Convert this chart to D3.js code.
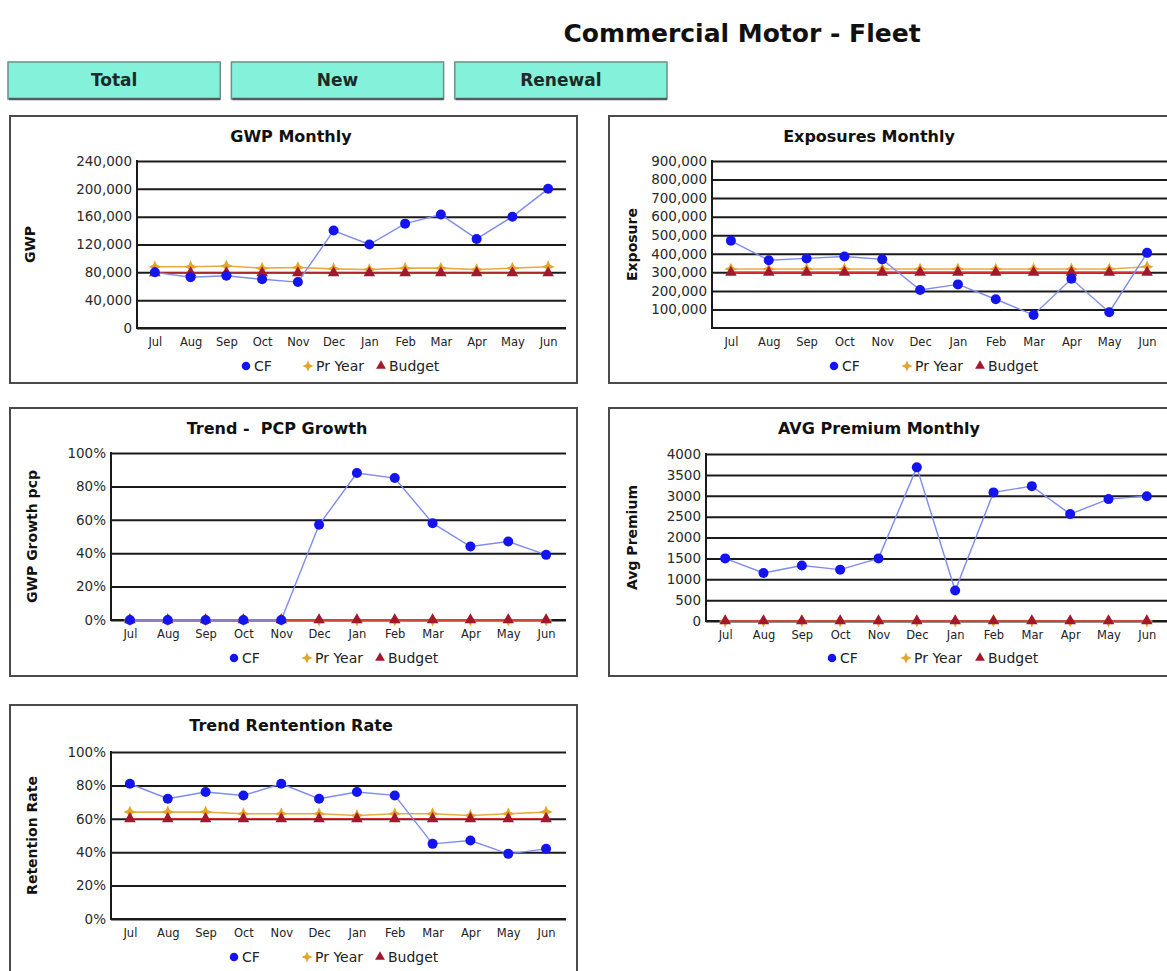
<!DOCTYPE html>
<html>
<head>
<meta charset="utf-8">
<script src="https://cdn.jsdelivr.net/npm/d3@7"></script>
<style>
  html, body { margin: 0; padding: 0; background: #fff; }
  svg { display: block; font-family: "DejaVu Sans", Verdana, sans-serif; }
</style>
</head>
<body>
<svg id="chart" width="1167" height="971"></svg>
<script>
// ---- data ----
const months = ["Jul", "Aug", "Sep", "Oct", "Nov", "Dec", "Jan", "Feb", "Mar", "Apr", "May", "Jun"];
const seriesNames = ["CF", "Pr Year", "Budget"];
const tabs = ["Total", "New", "Renewal"];

const gwpCF     = [80000, 73000, 75000, 70000, 66000, 140000, 120000, 150000, 163000, 128000, 160000, 200000];
const gwpPrYear = [88000, 88000, 89000, 86000, 87000, 85000, 84000, 86000, 86000, 84000, 86000, 88000];
const gwpBudget = [79000, 79000, 79000, 79000, 79000, 79000, 79000, 79000, 79000, 79000, 79000, 79000];
const gwpTicks  = [0, 40000, 80000, 120000, 160000, 200000, 240000];

const expCF     = [470000, 365000, 375000, 385000, 370000, 205000, 235000, 155000, 70000, 265000, 85000, 405000];
const expPrYear = [318000, 318000, 318000, 318000, 318000, 318000, 318000, 318000, 318000, 318000, 318000, 330000];
const expBudget = [300000, 300000, 300000, 300000, 300000, 300000, 300000, 300000, 300000, 300000, 300000, 300000];
const expTicks  = [100000, 200000, 300000, 400000, 500000, 600000, 700000, 800000, 900000];

const pcpCF     = [0, 0, 0, 0, 0, 0.57, 0.88, 0.85, 0.58, 0.44, 0.47, 0.39];
const pcpPrYear = [0, 0, 0, 0, 0, 0, 0, 0, 0, 0, 0, 0];
const pcpBudget = [0, 0, 0, 0, 0, 0, 0, 0, 0, 0, 0, 0];
const pctTicks  = [0, 0.2, 0.4, 0.6, 0.8, 1.0];

const avgCF     = [1500, 1150, 1330, 1230, 1500, 3680, 730, 3080, 3230, 2560, 2920, 2990];
const avgPrYear = [0, 0, 0, 0, 0, 0, 0, 0, 0, 0, 0, 0];
const avgBudget = [0, 0, 0, 0, 0, 0, 0, 0, 0, 0, 0, 0];
const avgTicks  = [0, 500, 1000, 1500, 2000, 2500, 3000, 3500, 4000];

const retCF     = [0.81, 0.72, 0.76, 0.74, 0.81, 0.72, 0.76, 0.74, 0.45, 0.47, 0.39, 0.42];
const retPrYear = [0.64, 0.64, 0.64, 0.63, 0.63, 0.63, 0.62, 0.63, 0.63, 0.62, 0.63, 0.64];
const retBudget = [0.60, 0.60, 0.60, 0.60, 0.60, 0.60, 0.60, 0.60, 0.60, 0.60, 0.60, 0.60];

// ---- styling ----
const lineColors   = ["#7f8bf0", "#e6ad45", "#d83030"];
const markerColors = ["#1414ee", "#e3a52a", "#a3182c"];

const svg = d3.select("#chart");

// page title
svg.append("text")
  .attr("x", 742).attr("y", 42)
  .attr("text-anchor", "middle")
  .attr("font-size", 25).attr("font-weight", "bold").attr("fill", "#111")
  .text("Commercial Motor - Fleet");

// tab buttons
const tabX = d3.scaleBand().domain(tabs).range([8, 667]).paddingInner(0.05);
const tabG = svg.append("g").selectAll("g").data(tabs).join("g")
  .attr("transform", d => `translate(${tabX(d)},62)`);
tabG.append("rect")
  .attr("width", tabX.bandwidth()).attr("height", 37)
  .attr("fill", "#84f2da").attr("stroke", "#6f8f86").attr("stroke-width", 1.5);
tabG.append("line")
  .attr("x1", 1).attr("x2", tabX.bandwidth()).attr("y1", 37).attr("y2", 37)
  .attr("stroke", "#4d5f5a").attr("stroke-width", 2.5);
tabG.append("text")
  .attr("x", tabX.bandwidth() / 2).attr("y", 24)
  .attr("text-anchor", "middle").attr("font-size", 17).attr("font-weight", "bold")
  .attr("fill", "#1d2a27")
  .text(d => d);

// marker shapes
function starPath(r, w) {
  const p = [[0, -r], [w, -w], [r, 0], [w, w], [0, r], [-w, w], [-r, 0], [-w, -w]];
  return "M" + p.map(q => q.join(",")).join("L") + "Z";
}
const triPath = d3.symbol(d3.symbolTriangle, 58)();
function drawMarker(g, kind, scale) {
  const s = scale || 1;
  if (kind === 0) {
    g.append("circle").attr("r", 5 * s).attr("fill", markerColors[0]);
  } else if (kind === 1) {
    g.append("path").attr("d", starPath(6.5 * s, 2 * s)).attr("fill", markerColors[1]);
  } else {
    g.append("path").attr("d", triPath).attr("transform", `scale(${s})`).attr("fill", markerColors[2]);
  }
}

function panel(cfg) {
  const g = svg.append("g");
  // frame
  g.append("rect")
    .attr("x", cfg.box[0]).attr("y", cfg.box[1])
    .attr("width", cfg.box[2]).attr("height", cfg.box[3])
    .attr("fill", "#fff").attr("stroke", "#4a4a4a").attr("stroke-width", 2);

  // title
  g.append("text")
    .attr("x", cfg.titleX).attr("y", cfg.box[1] + 26)
    .attr("text-anchor", "middle").attr("font-size", 16).attr("font-weight", "bold")
    .attr("fill", "#111").style("white-space", "pre")
    .text(cfg.title);

  const [left, top, right, bottom] = cfg.plot;
  const x = d3.scalePoint().domain(months).range([left, right]).padding(0.5);
  const y = d3.scaleLinear().domain(cfg.yDomain).range([bottom, top]);

  // y axis with full-width gridlines
  const yAxis = g.append("g")
    .attr("transform", `translate(${left},0)`)
    .call(d3.axisLeft(y).tickValues(cfg.ticks).tickFormat(cfg.fmt)
      .tickSizeInner(-(cfg.gridRight - left)).tickSizeOuter(0).tickPadding(5));
  yAxis.select(".domain").remove();
  yAxis.selectAll(".tick line").attr("stroke", "#1a1a1a").attr("stroke-width", 2);
  yAxis.selectAll(".tick text").attr("font-size", 13.5).attr("fill", "#2a2a2a")
    .attr("font-family", "DejaVu Sans, sans-serif");

  // baseline and vertical axis line
  g.append("line")
    .attr("x1", left).attr("x2", cfg.gridRight).attr("y1", y(0)).attr("y2", y(0))
    .attr("stroke", "#1a1a1a").attr("stroke-width", 2);
  g.append("line")
    .attr("x1", left).attr("x2", left).attr("y1", top - 1).attr("y2", bottom + 1)
    .attr("stroke", "#1a1a1a").attr("stroke-width", 2);

  // month labels
  const xAxis = g.append("g")
    .attr("transform", `translate(0,${bottom})`)
    .call(d3.axisBottom(x).tickSize(0).tickPadding(10));
  xAxis.select(".domain").remove();
  xAxis.selectAll("text").attr("font-size", 11.5).attr("fill", "#222")
    .attr("font-family", "DejaVu Sans, sans-serif");

  // y axis title
  g.append("text")
    .attr("transform", `translate(${cfg.yTitleX},${(top + bottom) / 2}) rotate(-90)`)
    .attr("text-anchor", "middle").attr("font-size", 14).attr("font-weight", "bold")
    .attr("fill", "#111")
    .text(cfg.yTitle);

  // series: Pr Year, Budget, then CF on top
  const line = d3.line().x((d, i) => x(months[i])).y(d => y(d));
  [1, 2, 0].forEach(k => {
    const vals = cfg.series[k];
    g.append("path")
      .attr("d", line(vals))
      .attr("fill", "none").attr("stroke", lineColors[k])
      .attr("stroke-width", k === 0 ? 1.4 : 1.6);
    g.append("g").selectAll("g").data(vals).join("g")
      .attr("transform", (d, i) => `translate(${x(months[i])},${y(d)})`)
      .each(function () { drawMarker(d3.select(this), k, 1); });
  });

  // legend
  seriesNames.forEach((name, k) => {
    const lg = g.append("g").attr("transform", `translate(${cfg.legendX[k]},${cfg.legendY})`);
    drawMarker(lg, k, 0.85);
    lg.append("text")
      .attr("x", 8).attr("y", 5)
      .attr("font-size", 14).attr("fill", "#222")
      .text(name);
  });
}

panel({
  box: [10, 116, 567, 267], title: "GWP Monthly", titleX: 291,
  plot: [137, 161, 566, 328], gridRight: 566,
  yDomain: [0, 240000], ticks: gwpTicks, fmt: d3.format(","),
  yTitle: "GWP", yTitleX: 35,
  series: [gwpCF, gwpPrYear, gwpBudget],
  legendX: [246, 308, 381], legendY: 366
});

panel({
  box: [609, 116, 580, 267], title: "Exposures Monthly", titleX: 869,
  plot: [712, 161, 1166, 328], gridRight: 1167,
  yDomain: [0, 900000], ticks: expTicks, fmt: d3.format(","),
  yTitle: "Exposure", yTitleX: 637,
  series: [expCF, expPrYear, expBudget],
  legendX: [834, 907, 980], legendY: 366
});

panel({
  box: [10, 408, 567, 268], title: "Trend -  PCP Growth", titleX: 277,
  plot: [111, 453, 565, 620], gridRight: 566,
  yDomain: [0, 1], ticks: pctTicks, fmt: d3.format(".0%"),
  yTitle: "GWP Growth pcp", yTitleX: 37,
  series: [pcpCF, pcpPrYear, pcpBudget],
  legendX: [234, 307, 380], legendY: 658
});

panel({
  box: [609, 408, 580, 268], title: "AVG Premium Monthly", titleX: 879,
  plot: [706, 454, 1166, 621], gridRight: 1167,
  yDomain: [0, 4000], ticks: avgTicks, fmt: d3.format("d"),
  yTitle: "Avg Premium", yTitleX: 637,
  series: [avgCF, avgPrYear, avgBudget],
  legendX: [832, 906, 980], legendY: 658
});

panel({
  box: [10, 705, 567, 280], title: "Trend Rentention Rate", titleX: 291,
  plot: [111, 752, 565, 919], gridRight: 566,
  yDomain: [0, 1], ticks: pctTicks, fmt: d3.format(".0%"),
  yTitle: "Retention Rate", yTitleX: 37,
  series: [retCF, retPrYear, retBudget],
  legendX: [234, 307, 380], legendY: 957
});
</script>
</body>
</html>
